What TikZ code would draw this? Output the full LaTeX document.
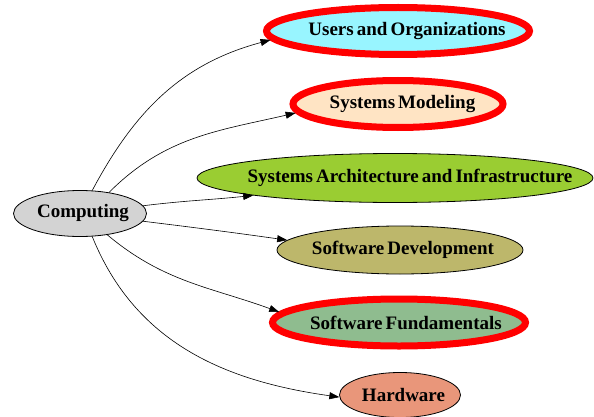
\documentclass[tikz,border=0pt]{standalone}
\usepackage{fontspec}
\setmainfont{Liberation Serif}
\usetikzlibrary{shapes.geometric,arrows.meta}

\definecolor{compgray}{HTML}{D3D3D3}
\definecolor{usercyan}{HTML}{98F5FF}
\definecolor{modelpeach}{HTML}{FFE4C4}
\definecolor{archgreen}{HTML}{9ACD32}
\definecolor{devkhaki}{HTML}{BDB76B}
\definecolor{fundgreen}{HTML}{8FBC8F}
\definecolor{hardsalmon}{HTML}{E9967A}

% bold labels with narrow word spaces
\newcommand{\areafont}{\fontsize{19}{21}\selectfont\bfseries
  \setlength{\spaceskip}{0.16em plus 0.02em}}
% label that does not widen the ellipse, shifted right by half of #1
\newcommand{\areatext}[2][0pt]{\makebox[0pt]{\hspace*{#1}#2}}

\begin{document}
\begin{tikzpicture}[x=1pt,y=1pt,
  area/.style={ellipse, draw=black, line width=0.8pt, inner sep=0pt,
    minimum height=48pt, font=\areafont},
  corearea/.style={area, draw=red, line width=7pt, minimum height=47pt},
  link/.style={-{Triangle[length=10pt,width=7pt]}, line width=0.6pt}]
  \useasboundingbox (0,0) rectangle (594,416);

  \node[area, fill=compgray, minimum width=133pt, minimum height=46pt] (comp) at (80,202.5) {\areatext[6pt]{Computing}};

  \node[corearea, fill=usercyan, minimum width=263pt] (users) at (398,385) {\areatext[18pt]{Users and Organizations}};
  \node[corearea, fill=modelpeach, minimum width=210pt] (model) at (398,312) {\areatext[9pt]{Systems Modeling}};
  \node[area, fill=archgreen, minimum width=396pt, minimum height=49pt] (arch) at (395,238) {\areatext[30pt]{Systems Architecture and Infrastructure}};
  \node[area, fill=devkhaki, minimum width=246pt] (dev) at (400,166) {\areatext[6pt]{Software Development}};
  \node[corearea, fill=fundgreen, minimum width=253pt] (fund) at (399,93.5) {\areatext[14pt]{Software Fundamentals}};
  \node[area, fill=hardsalmon, minimum width=121pt, minimum height=45pt] (hard) at (400,21) {\areatext[7pt]{Hardware}};

  % edges from the root
  \draw[link] (comp.62) to[out=62, in=195] (users.184);
  \draw[link] (comp.36) to[out=45, in=193] (model.185);
  \draw[link] (comp.7) to[out=7, in=186] (arch.187);
  \draw[link] (comp.-7) to[out=-7, in=172] (dev.175);
  \draw[link] (comp.-38) to[out=-40, in=160] (fund.175);
  \draw[link] (comp.-62) to[out=-68, in=172] (hard.182);
\end{tikzpicture}
\end{document}
